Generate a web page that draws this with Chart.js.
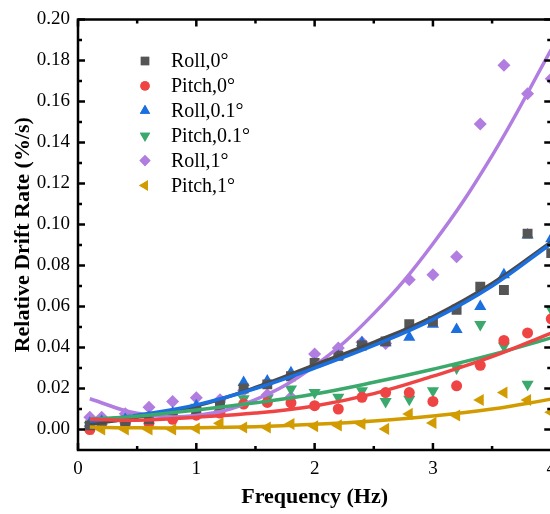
<!DOCTYPE html>
<html>
<head>
<meta charset="utf-8">
<script src="https://cdn.jsdelivr.net/npm/chart.js@4"></script>
<style>
  html, body { margin: 0; padding: 0; background: #fff; overflow: hidden; }
  #wrap { width: 550px; height: 514px; overflow: hidden; }
</style>
</head>
<body>
<div id="wrap"><canvas id="driftChart" width="564" height="514"></canvas></div>
<script>
// Frekuensi (Hz)
const freq = [0.1, 0.2, 0.4, 0.6, 0.8, 1.0, 1.2, 1.4, 1.6, 1.8, 2.0, 2.2, 2.4, 2.6, 2.8, 3.0, 3.2, 3.4, 3.6, 3.8, 4.0];

// Data titik (%/s)
const roll0   = [0.002, 0.003, 0.004, 0.005, 0.007, 0.009, 0.012, 0.020, 0.022, 0.026, 0.0325, 0.036, 0.041, 0.043, 0.0513, 0.0528, 0.0584, 0.0697, 0.068, 0.0955, 0.086];
const pitch0  = [0.000, 0.003, 0.003, 0.003, 0.005, 0.007, 0.008, 0.0124, 0.0132, 0.013, 0.0116, 0.010, 0.0157, 0.018, 0.018, 0.0137, 0.0213, 0.0313, 0.0434, 0.0471, 0.054];
const roll01  = [0.003, 0.004, 0.005, 0.006, 0.008, 0.0116, 0.0108, 0.0229, 0.0237, 0.0277, 0.032, 0.0358, 0.0423, 0.0423, 0.045, 0.0513, 0.0488, 0.060, 0.0755, 0.0949, 0.093];
const pitch01 = [0.002, 0.003, 0.004, 0.005, 0.007, 0.0108, 0.012, 0.015, 0.015, 0.0197, 0.018, 0.0157, 0.0189, 0.0137, 0.0148, 0.0189, 0.030, 0.0512, 0.0407, 0.0221, 0.0586];
const roll1   = [0.006, 0.006, 0.0077, 0.0108, 0.0137, 0.0155, 0.0145, 0.019, 0.017, 0.0157, 0.0368, 0.0397, 0.0426, 0.042, 0.073, 0.0755, 0.0843, 0.149, 0.1776, 0.1637, 0.171];
const pitch1  = [0.0003, 0.0, 0.0, 0.0, 0.0, 0.0005, 0.003, 0.001, 0.001, 0.0027, 0.0016, 0.002, 0.0027, 0.0003, 0.0076, 0.0032, 0.0068, 0.0144, 0.018, 0.0144, 0.0084];

// Garis fit
const fitX       = [0.1, 0.5, 1.0, 1.5, 2.0, 2.5, 3.0, 3.5, 4.0];
const fitRoll0   = [0.0025, 0.006, 0.0115, 0.0205, 0.0315, 0.0425, 0.055, 0.0712, 0.0915];
const fitPitch0  = [0.005, 0.0045, 0.006, 0.008, 0.0115, 0.0175, 0.026, 0.0355, 0.047];
const fitRoll01  = [0.004, 0.007, 0.012, 0.020, 0.030, 0.041, 0.0537, 0.070, 0.0907];
const fitPitch01 = [0.005, 0.0065, 0.0095, 0.013, 0.0173, 0.023, 0.0294, 0.0365, 0.0447];
const fitRoll1   = [0.015, 0.0079, 0.0068, 0.0146, 0.0311, 0.0565, 0.0906, 0.1336, 0.1853];
const fitPitch1  = [0.0012, 0.0008, 0.0008, 0.0013, 0.0025, 0.0042, 0.0066, 0.010, 0.0148];

const xTicks = [0, 1, 2, 3, 4];
const serif = "'Liberation Serif', 'Times New Roman', serif";

const toPts = (xs, ys) => xs.map((x, i) => ({ x: x, y: ys[i] }));

const series = [
    { label: 'Roll,0°',     data: roll0,   fit: fitRoll0,   color: '#555555', line: '#4a4a4a', style: 'rect',     radius: 7,   rot: 0,   fitOrder: 8 },
    { label: 'Pitch,0°',    data: pitch0,  fit: fitPitch0,  color: '#ef4444', line: '#ef4444', style: 'circle',   radius: 5.5, rot: 0,   fitOrder: 4 },
    { label: 'Roll,0.1°',   data: roll01,  fit: fitRoll01,  color: '#1b6fdf', line: '#1b6fdf', style: 'triangle', radius: 7,   rot: 0,   fitOrder: 7 },
    { label: 'Pitch,0.1°',  data: pitch01, fit: fitPitch01, color: '#3aa96b', line: '#3aa96b', style: 'triangle', radius: 7,   rot: 180, fitOrder: 5 },
    { label: 'Roll,1°',     data: roll1,   fit: fitRoll1,   color: '#b27de0', line: '#b27de0', style: 'rectRot',  radius: 6.5, rot: 0,   fitOrder: 9 },
    { label: 'Pitch,1°',    data: pitch1,  fit: fitPitch1,  color: '#d29c00', line: '#d29c00', style: 'triangle', radius: 7,   rot: -90, fitOrder: 3 }
];

const datasets = [];
series.forEach((s) => {
    datasets.push({
        type: 'scatter',
        label: s.label,
        data: toPts(freq, s.data),
        pointStyle: s.style,
        pointRadius: s.radius,
        pointRotation: s.rot,
        backgroundColor: s.color,
        borderColor: s.color,
        pointBorderWidth: 0,
        order: 20
    });
    datasets.push({
        type: 'line',
        label: s.label + ' fit',
        data: toPts(fitX, s.fit),
        borderColor: s.line,
        borderWidth: 3.5,
        pointRadius: 0,
        tension: 0.4,
        fill: false,
        order: s.fitOrder
    });
});

// Bingkai sumbu dan tick ke dalam
const framePlugin = {
    id: 'frame',
    afterDraw(chart) {
        const { ctx, chartArea: a, scales: { x, y } } = chart;
        ctx.save();
        ctx.strokeStyle = '#000';
        ctx.lineWidth = 2.5;
        ctx.beginPath();
        ctx.rect(a.left, a.top, a.right - a.left, a.bottom - a.top);
        ctx.stroke();
        ctx.beginPath();
        for (let v = 0; v <= 4.0001; v += 0.5) {
            const px = x.getPixelForValue(v);
            const len = Math.abs(v - Math.round(v)) < 1e-6 ? 7 : 4;
            ctx.moveTo(px, a.bottom); ctx.lineTo(px, a.bottom - len);
            ctx.moveTo(px, a.top); ctx.lineTo(px, a.top + len);
        }
        for (let i = 0; i <= 20; i++) {
            const v = i * 0.01;
            const py = y.getPixelForValue(v);
            const len = i % 2 === 0 ? 7 : 4;
            ctx.moveTo(a.left, py); ctx.lineTo(a.left + len, py);
            ctx.moveTo(a.right, py); ctx.lineTo(a.right - len, py);
        }
        ctx.stroke();
        ctx.restore();
    }
};

// Legenda di dalam area grafik
const legendPlugin = {
    id: 'innerLegend',
    afterDraw(chart) {
        const ctx = chart.ctx;
        ctx.save();
        ctx.font = '20px ' + serif;
        ctx.textBaseline = 'middle';
        ctx.fillStyle = '#000';
        series.forEach((s, i) => {
            const yy = 61 + i * 24.9;
            ctx.fillStyle = s.color;
            ctx.strokeStyle = s.color;
            Chart.helpers.drawPoint(ctx, {
                pointStyle: s.style,
                rotation: s.rot,
                radius: s.radius * 0.85,
                borderWidth: 0
            }, 145, yy);
            ctx.fill();
            ctx.fillStyle = '#000';
            ctx.fillText(s.label, 171, yy + 1);
        });
        ctx.restore();
    }
};

const ctx = document.getElementById('driftChart').getContext('2d');
const driftChart = new Chart(ctx, {
    data: { datasets: datasets },
    options: {
        responsive: false,
        animation: false,
        devicePixelRatio: 1,
        layout: { padding: { top: 16, right: 5, left: 0, bottom: 0 } },
        plugins: {
            legend: { display: false },
            tooltip: { enabled: false }
        },
        scales: {
            x: {
                type: 'linear',
                min: 0,
                max: 4,
                afterFit: (s) => { s.height = 64; },
                afterBuildTicks: (s) => { s.ticks = xTicks.map((v) => ({ value: v })); },
                grid: { display: false, drawTicks: false },
                border: { display: false },
                ticks: {
                    padding: 8,
                    color: '#000',
                    font: { family: serif, size: 19 },
                    callback: (v) => String(v)
                },
                title: {
                    display: true,
                    text: 'Frequency (Hz)',
                    color: '#000',
                    font: { family: serif, size: 22, weight: 'bold' },
                    padding: { top: 0, bottom: 3 }
                }
            },
            y: {
                type: 'linear',
                min: -0.01,
                max: 0.20,
                afterFit: (s) => { s.width = 78; },
                grid: { display: false, drawTicks: false },
                border: { display: false },
                ticks: {
                    stepSize: 0.02,
                    includeBounds: false,
                    padding: 8,
                    color: '#000',
                    font: { family: serif, size: 19 },
                    callback: (v) => (v < -1e-9 ? '' : v.toFixed(2))
                },
                title: {
                    display: true,
                    text: 'Relative Drift Rate (%/s)',
                    color: '#000',
                    font: { family: serif, size: 22, weight: 'bold' },
                    padding: { top: 10, bottom: 0 }
                }
            }
        }
    },
    plugins: [framePlugin, legendPlugin]
});
</script>
</body>
</html>
